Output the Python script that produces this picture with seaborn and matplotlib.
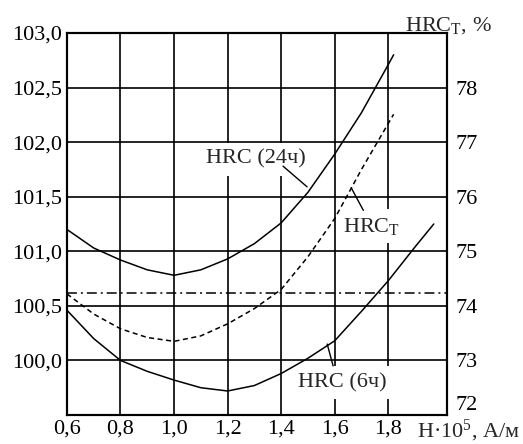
import matplotlib
matplotlib.use("Agg")
import matplotlib.pyplot as plt
import matplotlib.ticker as mticker
import seaborn as sns

# H * 10^5, A/m
h_24 = [0.6, 0.7, 0.8, 0.9, 1.0, 1.1, 1.2, 1.3, 1.4, 1.5, 1.6, 1.7, 1.8, 1.82]
hrc_24 = [101.2, 101.03, 100.92, 100.83, 100.78, 100.83, 100.93, 101.07, 101.26,
          101.54, 101.89, 102.27, 102.71, 102.8]

h_6 = [0.6, 0.7, 0.8, 0.9, 1.0, 1.1, 1.2, 1.3, 1.4, 1.5, 1.6, 1.7, 1.8, 1.9, 1.97]
hrc_6 = [100.46, 100.2, 100.0, 99.9, 99.82, 99.75, 99.72, 99.77, 99.88, 100.02,
         100.18, 100.45, 100.73, 101.04, 101.25]

h_t = [0.6, 0.7, 0.8, 0.9, 1.0, 1.1, 1.2, 1.3, 1.4, 1.5, 1.6, 1.7, 1.82]
hrc_t = [74.22, 73.85, 73.58, 73.42, 73.35, 73.45, 73.67, 73.95, 74.3, 74.9,
         75.6, 76.5, 77.51]

ref_level = 100.62  # dash-dot reference line

x_ticks = [0.6, 0.8, 1.0, 1.2, 1.4, 1.6, 1.8]
left_ticks = [100.0, 100.5, 101.0, 101.5, 102.0, 102.5, 103.0]
right_ticks = [72, 73, 74, 75, 76, 77, 78]

FS = 16

sns.set_theme(style="white")
plt.rcParams["font.family"] = ["Liberation Serif", "DejaVu Serif"]
plt.rcParams["mathtext.fontset"] = "custom"
plt.rcParams["mathtext.rm"] = "Liberation Serif"
plt.rcParams["mathtext.it"] = "Liberation Serif"
plt.rcParams["font.size"] = FS

fig = plt.figure(figsize=(5.23, 4.44), dpi=100)
ax = fig.add_axes([0.128, 0.0653, 0.727, 0.8604])
ax2 = ax.twinx()

line_kw = dict(color="black", linewidth=1.1, zorder=2)
sns.lineplot(x=h_24, y=hrc_24, ax=ax, **line_kw)
sns.lineplot(x=h_6, y=hrc_6, ax=ax, **line_kw)
ax.axhline(ref_level, color="black", linewidth=1.1, linestyle=(0, (6.5, 2.6, 1.3, 2.6)))
sns.lineplot(x=h_t, y=hrc_t, ax=ax2, color="black", linewidth=1.1, linestyle=(0, (3.3, 2.3)))

ax.set_xlim(0.6, 2.02)
ax.set_ylim(99.5, 103.0)
ax2.set_ylim(72, 79)
ax.set_xticks(x_ticks)
ax.set_yticks(left_ticks)
ax2.set_yticks(right_ticks)
comma = mticker.FuncFormatter(lambda v, p: f"{v:.1f}".replace(".", ","))
ax.xaxis.set_major_formatter(comma)
ax.yaxis.set_major_formatter(comma)
ax2.yaxis.set_major_formatter(mticker.FuncFormatter(lambda v, p: f"{v:.0f}"))

ax.grid(True, color="black", linewidth=1.2)
ax.set_axisbelow(True)
ax.tick_params(axis="both", length=0, labelsize=FS, colors="black")
ax.tick_params(axis="y", pad=3.5)
ax.tick_params(axis="x", pad=3)
ax2.tick_params(axis="y", length=0, labelsize=FS, colors="black", pad=6)
for a in (ax, ax2):
    for s in a.spines.values():
        s.set_color("black")
        s.set_linewidth(1.5)
ax.set_xlabel("")
ax.set_ylabel("")
ax2.set_ylabel("")
# the lowest right label sits just above the bottom frame
ax2.get_yticklabels()[0].set_va("bottom")

box = dict(boxstyle="square,pad=0.3", facecolor="white", edgecolor="none")
ax.text(1.307, 101.8, "HRC (24ч)", ha="center", va="baseline", bbox=box, zorder=1.5)
ax.text(1.632, 101.18, "HRC$_{\\mathrm{Т}}$", ha="left", va="baseline", bbox=box, zorder=1.5)
ax.text(1.63, 99.755, "HRC (6ч)", ha="center", va="baseline", bbox=box, zorder=1.5)

leader = dict(arrowstyle="-", color="black", linewidth=1.0, shrinkA=0, shrinkB=0)
ax.annotate("", xy=(1.497, 101.59), xytext=(1.407, 101.78), arrowprops=leader, zorder=4)
ax2.annotate("", xy=(1.662, 76.16), xytext=(1.707, 75.75), arrowprops=leader, zorder=4)
ax.annotate("", xy=(1.572, 100.15), xytext=(1.594, 99.95), arrowprops=leader, zorder=4)

fig.text(0.774, 0.932, "HRC$_{\\mathrm{Т}}$, %", ha="left", va="baseline", fontsize=FS)
fig.text(0.797, 0.016, "H·10$^{5}$, А/м", ha="left", va="baseline", fontsize=FS)

fig.savefig("out.png", dpi=100)
